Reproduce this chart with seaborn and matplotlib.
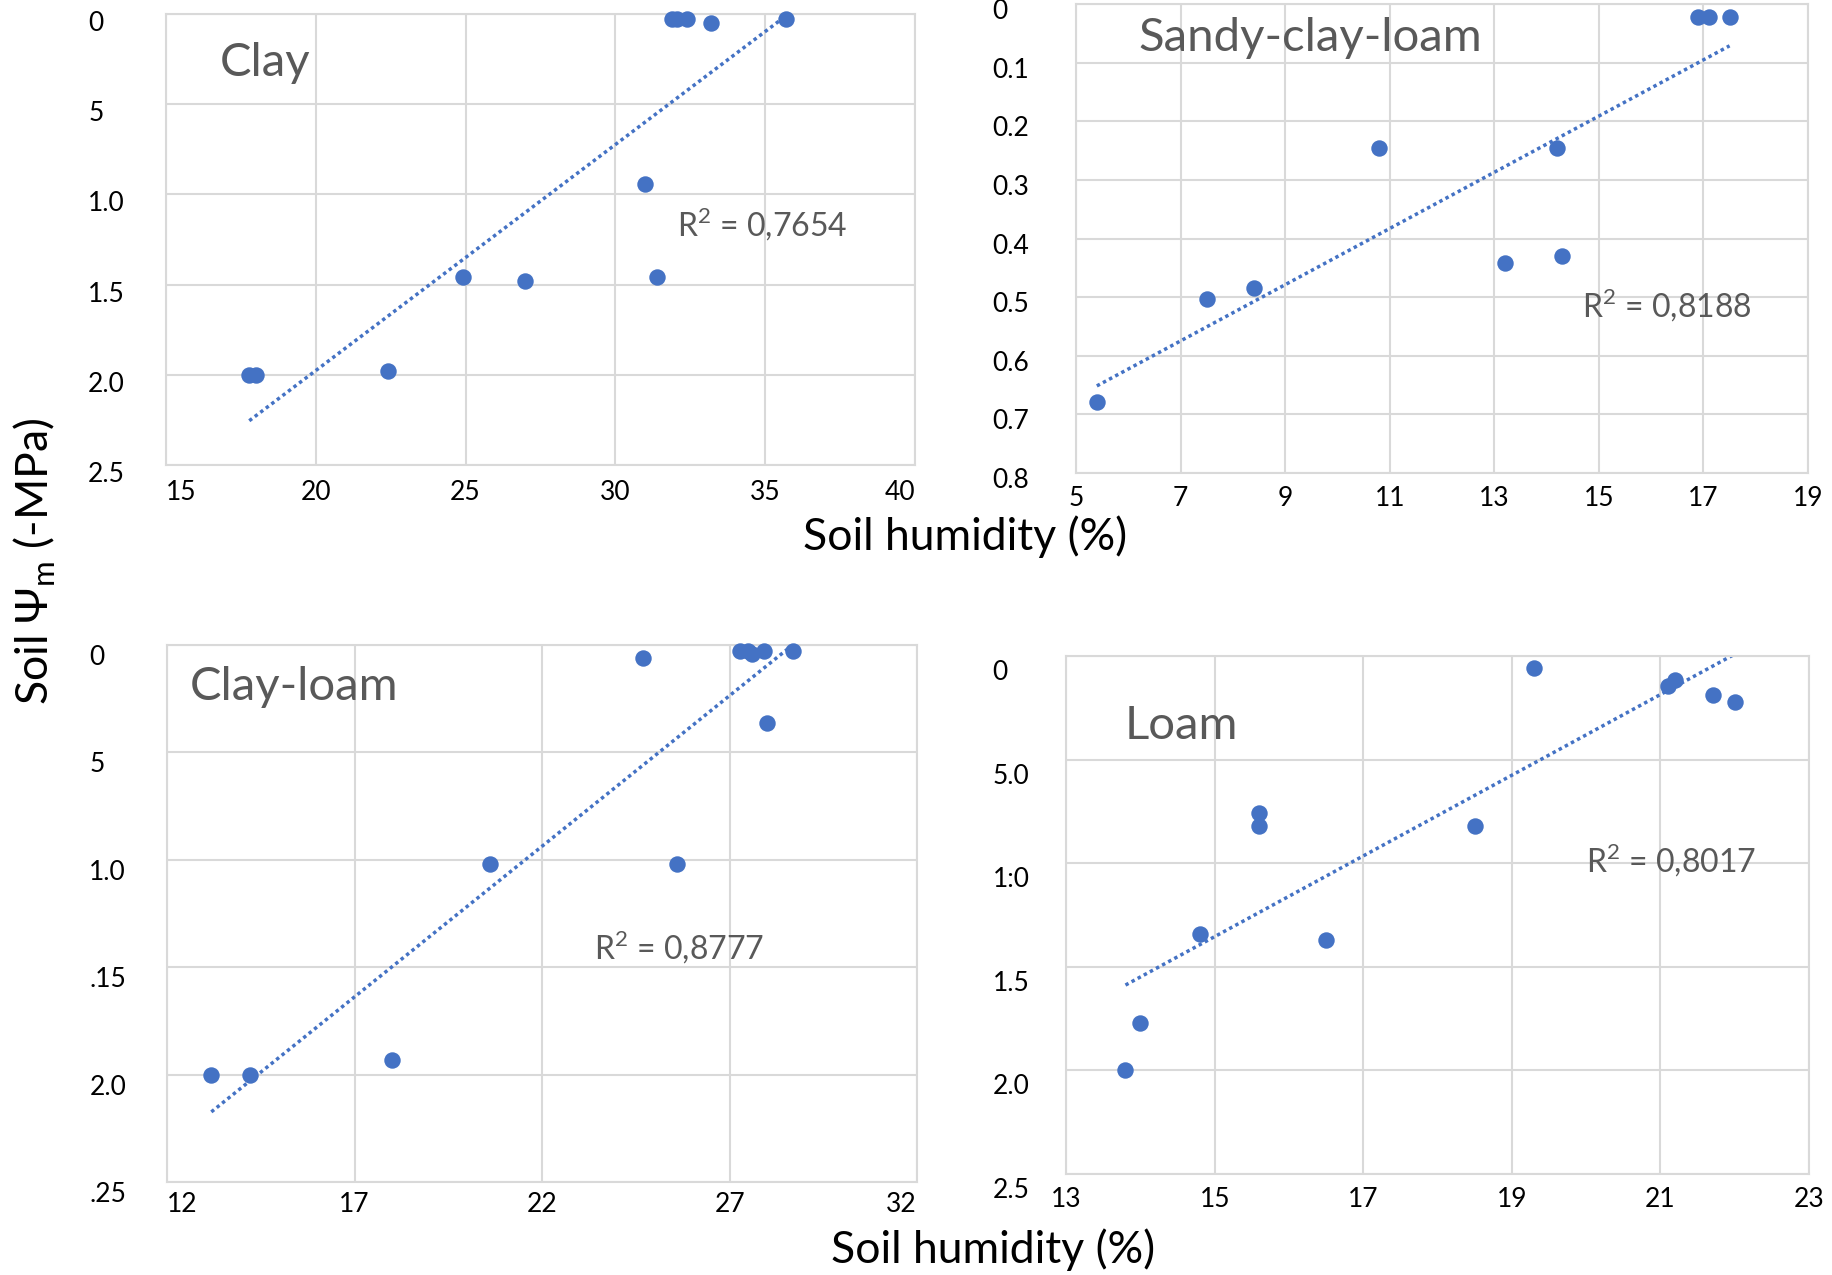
import numpy as np
import pandas as pd
import seaborn as sns
import matplotlib.pyplot as plt
from matplotlib.transforms import ScaledTranslation

# soil humidity (%) vs soil matric potential (-MPa)
clay_x = [17.78, 18.0, 22.4, 24.9, 27.0, 31.0, 31.4, 31.9, 32.05, 32.4, 33.2, 35.7]
clay_y = [2.0, 2.0, 1.98, 1.46, 1.48, 0.94, 1.46, 0.026, 0.026, 0.026, 0.051, 0.026]

scl_x = [5.4, 7.5, 8.4, 10.8, 13.2, 14.2, 14.3, 16.9, 17.1, 17.5]
scl_y = [0.678, 0.503, 0.485, 0.246, 0.441, 0.246, 0.430, 0.022, 0.022, 0.022]

cl_x = [13.18, 14.2, 18.0, 20.6, 24.7, 25.6, 27.27, 27.5, 27.6, 27.92, 28.0, 28.7]
cl_y = [2.0, 2.0, 1.93, 1.02, 0.06, 1.02, 0.026, 0.026, 0.042, 0.026, 0.362, 0.026]

loam_x = [13.8, 14.0, 14.8, 15.6, 15.6, 16.5, 18.5, 19.3, 21.1, 21.2, 21.7, 22.0]
loam_y = [2.0, 1.77, 1.34, 0.76, 0.82, 1.37, 0.82, 0.058, 0.145, 0.116, 0.19, 0.222]

clay_xticks = [15, 20, 25, 30, 35, 40]
scl_xticks = [5, 7, 9, 11, 13, 15, 17, 19]
cl_xticks = [12, 17, 22, 27, 32]
loam_xticks = [13, 15, 17, 19, 21, 23]

clay_yticks = [0, 0.5, 1.0, 1.5, 2.0, 2.5]
clay_ylabels = ['0', '5', '1.0', '1.5', '2.0', '2.5']
scl_yticks = [0, 0.1, 0.2, 0.3, 0.4, 0.5, 0.6, 0.7, 0.8]
scl_ylabels = ['0', '0.1', '0.2', '0.3', '0.4', '0.5', '0.6', '0.7', '0.8']
cl_yticks = [0, 0.5, 1.0, 1.5, 2.0, 2.5]
cl_ylabels = ['0', '5', '1.0', '.15', '2.0', '.25']
loam_yticks = [0, 0.5, 1.0, 1.5, 2.0, 2.5]
loam_ylabels = ['0', '5.0', '1:0', '1.5', '2.0', '2.5']

r2_values = ['0,7654', '0,8188', '0,8777', '0,8017']

BLUE = '#4472C4'
GREY_TXT = '#595959'
GRID = '#D9D9D9'

sns.set_theme(style='white')
plt.rcParams['font.family'] = ['Lato', 'DejaVu Sans']

fig = plt.figure(figsize=(18.32, 12.75), dpi=100)


def draw_panel(rect, x, y, xticks, yticks, ylabels, name, name_pos, r2, r2_pos,
               ypad, xpad, ydrop, edge_labels):
    ax = fig.add_axes(rect)
    df = pd.DataFrame({'x': x, 'y': y})
    sns.regplot(data=df, x='x', y='y', ax=ax, ci=None, color=BLUE,
                scatter_kws=dict(s=140, alpha=1, linewidths=0, zorder=3, clip_on=False),
                line_kws=dict(ls=(0, (1, 1)), lw=2.5, zorder=2))
    ax.set_xlim(xticks[0], xticks[-1])
    ax.set_ylim(yticks[-1], yticks[0])
    ax.set_xticks(xticks, labels=[str(t) for t in xticks])
    ax.set_yticks(yticks, labels=ylabels)
    ax.set_xlabel('')
    ax.set_ylabel('')
    ax.grid(True, color=GRID, lw=1.5)
    ax.set_axisbelow(True)
    for s in ax.spines.values():
        s.set_color(GRID)
        s.set_linewidth(1.5)
    ax.tick_params(axis='x', length=0, pad=xpad, labelsize=19, labelcolor='black')
    ax.tick_params(axis='y', length=0, pad=ypad, labelsize=19, labelcolor='black')
    shift = ScaledTranslation(0, -ydrop / 100, fig.dpi_scale_trans)
    for lab in ax.get_yticklabels():
        lab.set_horizontalalignment('left')
        lab.set_transform(lab.get_transform() + shift)
    if edge_labels:
        xl = ax.get_xticklabels()
        xl[0].set_horizontalalignment('left')
        xl[-1].set_horizontalalignment('right')
    ax.text(name_pos[0], name_pos[1], name, transform=ax.transAxes, fontsize=34,
            color=GREY_TXT, ha='left', va='center')
    ax.text(r2_pos[0], r2_pos[1], r'R$^\mathregular{2}$ = ' + r2, transform=ax.transAxes,
            fontsize=23, color=GREY_TXT, ha='left', va='center')
    return ax


draw_panel([0.0906, 0.6353, 0.4088, 0.3537], clay_x, clay_y, clay_xticks, clay_yticks,
           clay_ylabels, 'Clay', (0.072, 0.891), r2_values[0], (0.682, 0.534),
           56, 11, 7, True)
draw_panel([0.5873, 0.6290, 0.3996, 0.3678], scl_x, scl_y, scl_xticks, scl_yticks,
           scl_ylabels, 'Sandy-clay-loam', (0.086, 0.928), r2_values[1], (0.691, 0.358),
           60, 9, 5, False)
draw_panel([0.0912, 0.0729, 0.4094, 0.4212], cl_x, cl_y, cl_xticks, cl_yticks,
           cl_ylabels, 'Clay-loam', (0.030, 0.922), r2_values[2], (0.569, 0.437),
           56, 7, 10, True)
draw_panel([0.5819, 0.0792, 0.4056, 0.4063], loam_x, loam_y, loam_xticks, loam_yticks,
           loam_ylabels, 'Loam', (0.079, 0.865), r2_values[3], (0.70, 0.605),
           53, 9, 14, False)

fig.text(0.5268, 0.5788, 'Soil humidity (%)', fontsize=32, ha='center', va='center', color='black')
fig.text(0.542, 0.0196, 'Soil humidity (%)', fontsize=32, ha='center', va='center', color='black')
fig.text(0.0191, 0.56, r'Soil Ψ$_\mathregular{m}$ (-MPa)', fontsize=32, rotation=90,
         ha='center', va='center', color='black')

fig.savefig('out.png', dpi=100)
